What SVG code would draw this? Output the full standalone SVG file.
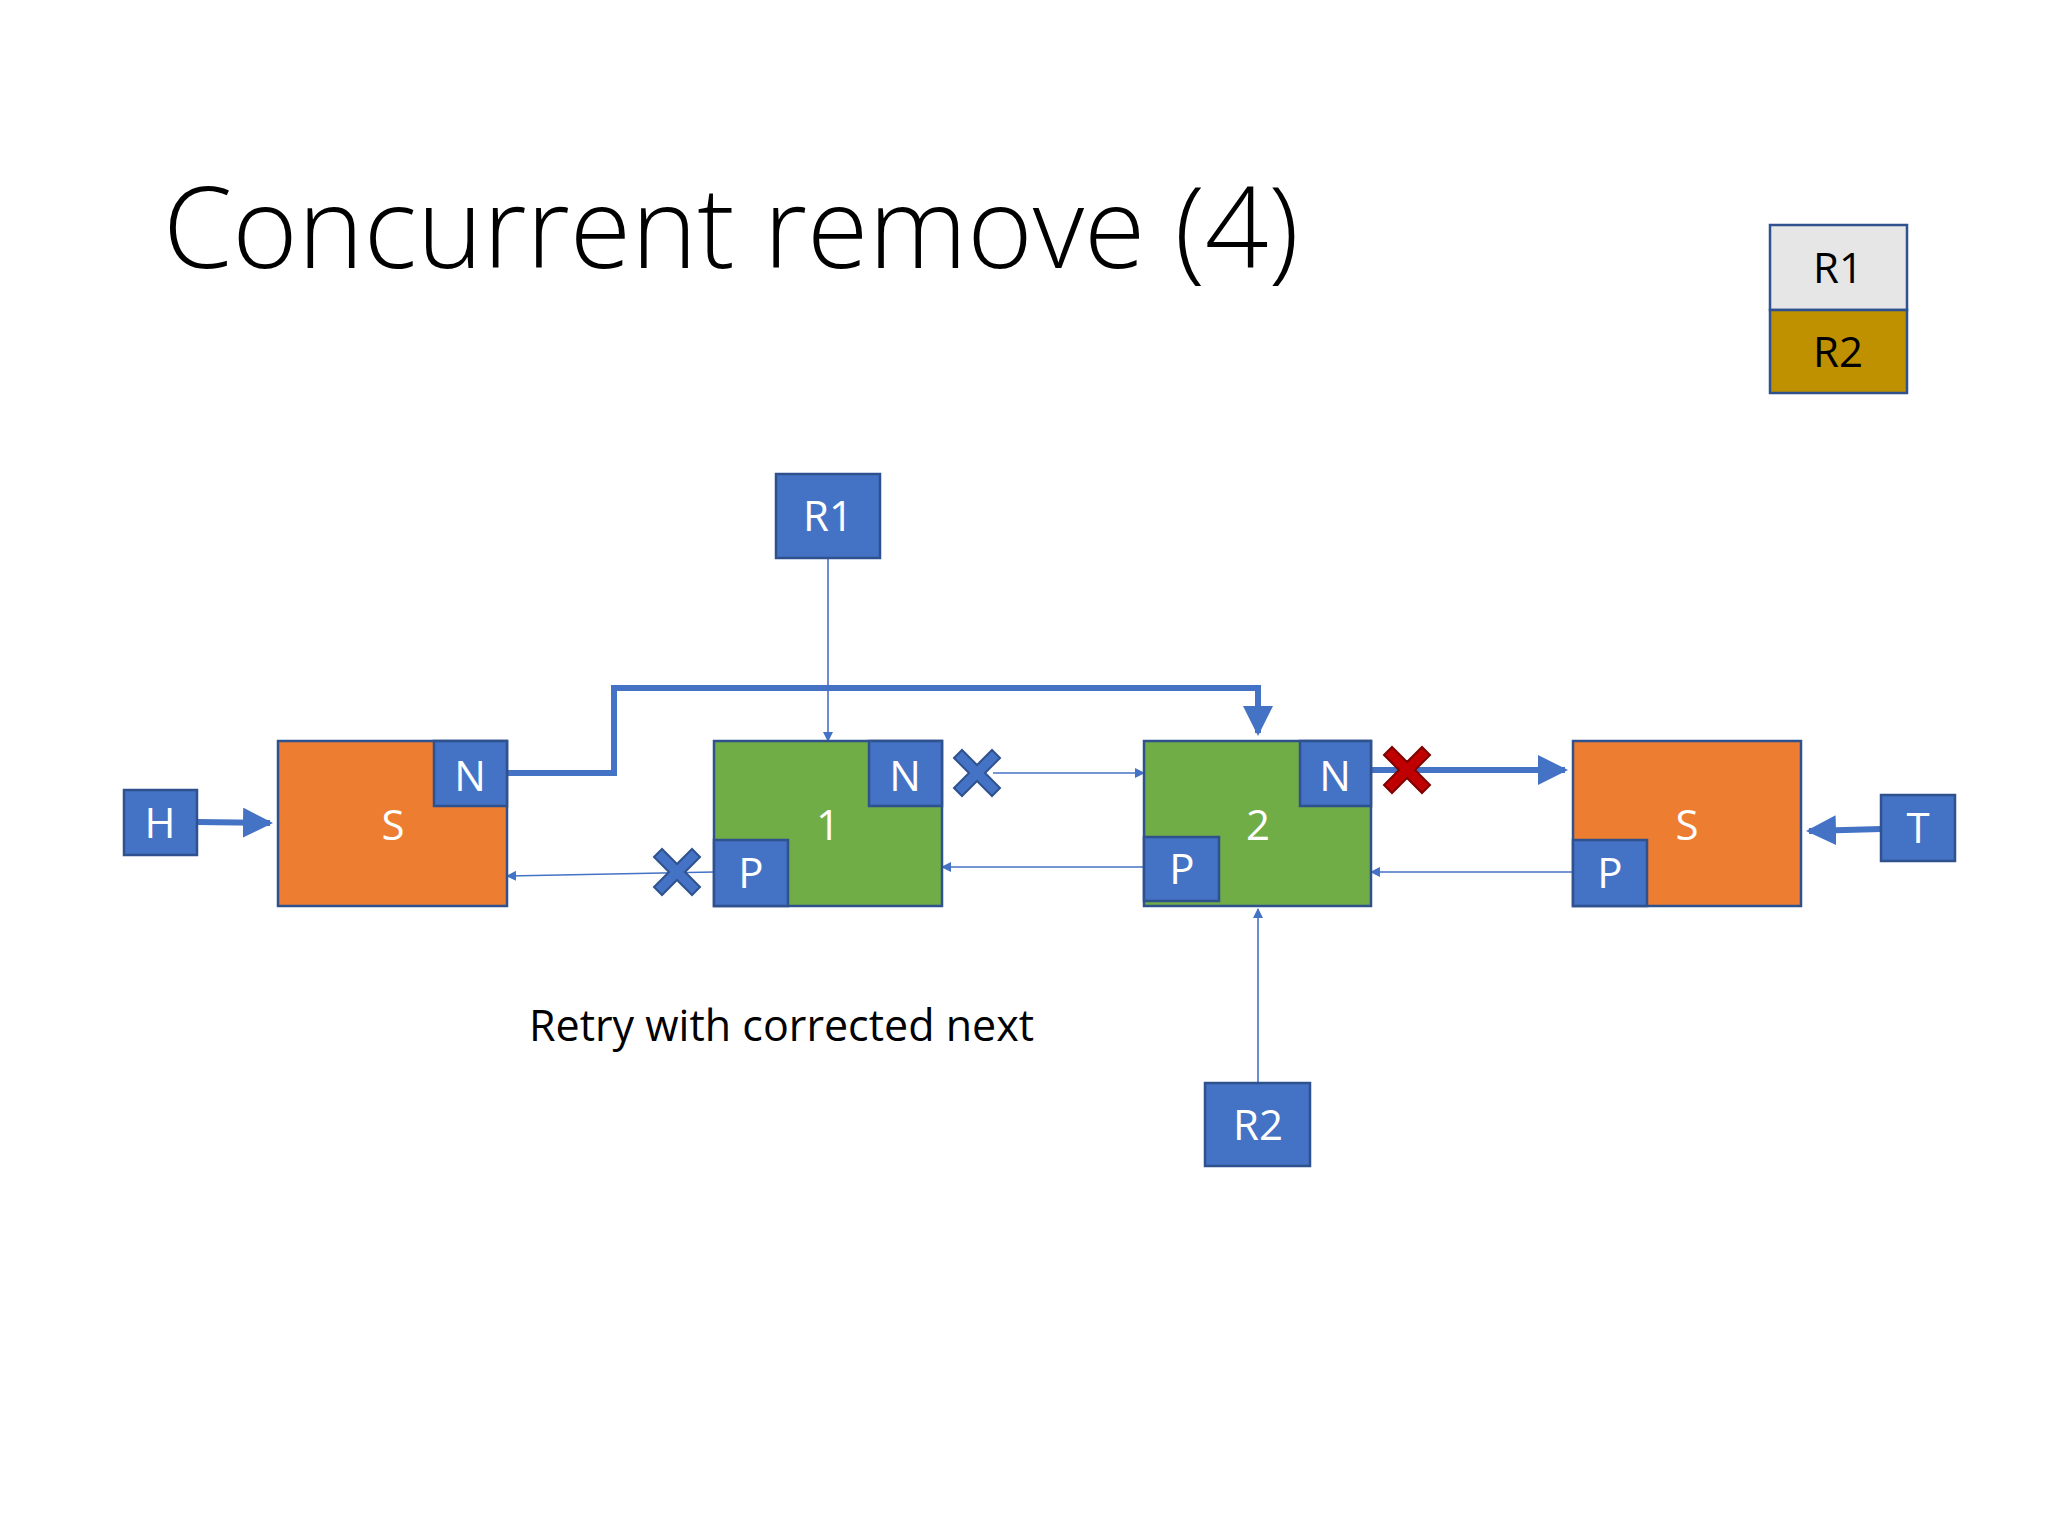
<svg xmlns="http://www.w3.org/2000/svg" width="2048" height="1536" viewBox="0 0 2048 1536">
<defs>
<style>
.b{fill:#4472c4;stroke:#2f528f;stroke-width:2.5}
.o{fill:#ed7d31;stroke:#2f528f;stroke-width:2.5}
.g{fill:#70ad47;stroke:#2f528f;stroke-width:2.5}
.t{font-family:"Open Sans","Liberation Sans",sans-serif;fill:#fff;font-size:42px;text-anchor:middle}
.k{font-family:"Open Sans","Liberation Sans",sans-serif;fill:#000}
.thin{stroke:#4472c4;stroke-width:1.6;fill:none}
.thick{stroke:#4472c4;stroke-width:6;fill:none}
</style>
<marker id="a" viewBox="0 0 10 10" refX="9" refY="5" markerWidth="10" markerHeight="10" markerUnits="userSpaceOnUse" orient="auto"><path d="M0,0L10,5L0,10z" fill="#4472c4"/></marker>
<marker id="A" viewBox="0 0 10 10" refX="9" refY="5" markerWidth="5" markerHeight="5" orient="auto"><path d="M0,0L10,5L0,10z" fill="#4472c4"/></marker>
<path id="x" d="M-23,-15L-15,-23L0,-8L15,-23L23,-15L8,0L23,15L15,23L0,8L-15,23L-23,15L-8,0Z"/>
</defs>
<rect width="2048" height="1536" fill="#fff"/>
<text class="k" x="163" y="268" font-size="112" font-weight="300" textLength="1136" lengthAdjust="spacingAndGlyphs">Concurrent remove (4)</text>
<g id="legend">
<rect x="1770" y="225" width="137" height="85" fill="#e7e6e6" stroke="#2f528f" stroke-width="2.5"/>
<text class="k" x="1838" y="283" font-size="42" text-anchor="middle">R1</text>
<rect x="1770" y="310" width="137" height="83" fill="#bf9000" stroke="#2f528f" stroke-width="2.5"/>
<text class="k" x="1838" y="367" font-size="42" text-anchor="middle">R2</text>
</g>
<g id="connectors">
<path class="thick" d="M197,822L270,823" marker-end="url(#A)"/>
<path class="thick" d="M1881,829L1809,831" marker-end="url(#A)"/>
<path class="thick" d="M507,773H614V688H1258V733" marker-end="url(#A)"/>
<path class="thin" d="M828,558V741" marker-end="url(#a)"/>
<path class="thin" d="M993,773H1144" marker-end="url(#a)"/>
<path class="thick" d="M1371,770H1565" marker-end="url(#A)"/>
<path class="thin" d="M1144,867H942" marker-end="url(#a)"/>
<path class="thin" d="M1573,872H1371" marker-end="url(#a)"/>
<path class="thin" d="M714,872L507,876" marker-end="url(#a)"/>
<path class="thin" d="M1258,1083V909" marker-end="url(#a)"/>
<use href="#x" x="977" y="773" fill="#4472c4" stroke="#2f528f" stroke-width="2"/>
<use href="#x" x="677" y="872" fill="#4472c4" stroke="#2f528f" stroke-width="2"/>
<use href="#x" x="1407" y="770" fill="#c00000" stroke="#7f0000" stroke-width="2"/>
</g>
<g id="H"><rect class="b" x="124" y="790" width="73" height="65"/><text class="t" x="160" y="838">H</text></g>
<g id="T"><rect class="b" x="1881" y="795" width="74" height="66"/><text class="t" x="1918" y="843">T</text></g>
<g id="R1"><rect class="b" x="776" y="474" width="104" height="84"/><text class="t" x="828" y="531">R1</text></g>
<g id="R2"><rect class="b" x="1205" y="1083" width="105" height="83"/><text class="t" x="1258" y="1140">R2</text></g>
<g id="S1"><rect class="o" x="278" y="741" width="229" height="165"/><text class="t" x="393" y="840">S</text>
<rect class="b" x="434" y="741" width="73" height="65"/><text class="t" x="470" y="791">N</text></g>
<g id="n1"><rect class="g" x="714" y="741" width="228" height="165"/><text class="t" x="828" y="840">1</text>
<rect class="b" x="869" y="741" width="73" height="65"/><text class="t" x="905" y="791">N</text>
<rect class="b" x="714" y="840" width="74" height="66"/><text class="t" x="751" y="888">P</text></g>
<g id="n2"><rect class="g" x="1144" y="741" width="227" height="165"/><text class="t" x="1258" y="840">2</text>
<rect class="b" x="1300" y="741" width="71" height="65"/><text class="t" x="1335" y="791">N</text>
<rect class="b" x="1144" y="837" width="75" height="64"/><text class="t" x="1182" y="884">P</text></g>
<g id="S2"><rect class="o" x="1573" y="741" width="228" height="165"/><text class="t" x="1687" y="840">S</text>
<rect class="b" x="1573" y="840" width="74" height="66"/><text class="t" x="1610" y="888">P</text></g>
<text class="k" x="529" y="1041" font-size="43">Retry with corrected next</text>
</svg>
